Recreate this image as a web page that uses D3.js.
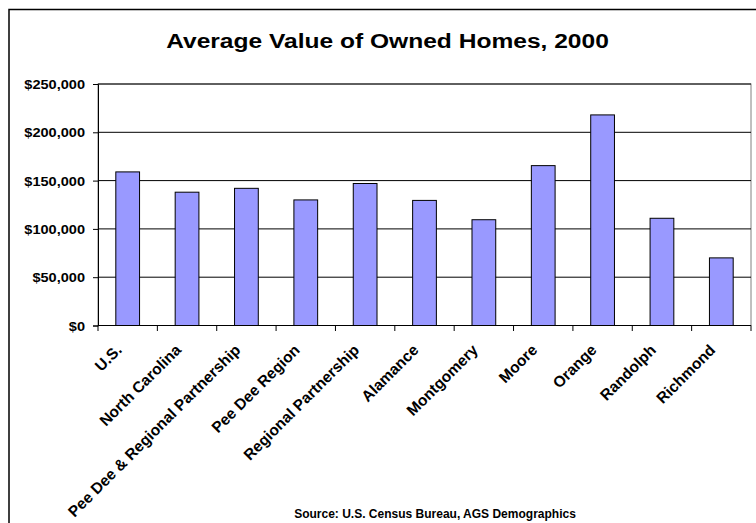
<!DOCTYPE html>
<html>
<head>
<meta charset="utf-8">
<script src="https://cdn.jsdelivr.net/npm/d3@7"></script>
<style>
  html, body { margin: 0; padding: 0; background: #fff; }
  svg { display: block; font-family: "Liberation Sans", Arial, sans-serif; }
</style>
</head>
<body>
<svg id="chart" width="756" height="523"></svg>
<script>
// Average value of owned homes, 2000 (US dollars)
const categories = ["U.S.", "North Carolina", "Pee Dee & Regional Partnership", "Pee Dee Region",
  "Regional Partnership", "Alamance", "Montgomery", "Moore", "Orange", "Randolph", "Richmond"];
const values = [159000, 138000, 142000, 130000, 147000, 129500, 109500, 165500, 218000, 111000, 70000];
const yTicks = [0, 50000, 100000, 150000, 200000, 250000];

const titleText = "Average Value of Owned Homes, 2000";
const sourceText = "Source: U.S. Census Bureau, AGS Demographics";

const svg = d3.select("#chart");
const plot = { left: 98, right: 751, top: 84, bottom: 325.5 };

const x = d3.scaleBand()
  .domain(categories)
  .range([plot.left, plot.right])
  .paddingInner(0.6)
  .paddingOuter(0.3);
const step = x.step();

const y = d3.scaleLinear()
  .domain([0, 250000])
  .range([plot.bottom, plot.top]);

// outer chart frame
svg.append("rect")
  .attr("x", 9).attr("y", 9.5)
  .attr("width", 800).attr("height", 600)
  .attr("fill", "none").attr("stroke", "#000").attr("stroke-width", 1.5);

// title
svg.append("text")
  .attr("transform", "translate(387.5,48) scale(1.17,1)")
  .attr("text-anchor", "middle")
  .attr("font-size", 21).attr("font-weight", "bold")
  .text(titleText);

// plot area border
svg.append("rect")
  .attr("x", plot.left).attr("y", plot.top)
  .attr("width", plot.right - plot.left).attr("height", plot.bottom - plot.top)
  .attr("fill", "none").attr("stroke", "#808080").attr("stroke-width", 1);

// horizontal gridlines
svg.append("g").selectAll("line")
  .data(yTicks.filter(d => d > 0))
  .join("line")
  .attr("x1", plot.left).attr("x2", plot.right)
  .attr("y1", d => y(d)).attr("y2", d => y(d))
  .attr("stroke", "#000").attr("stroke-width", 1);

// bars
svg.append("g").selectAll("rect")
  .data(values)
  .join("rect")
  .attr("x", (d, i) => x(categories[i]))
  .attr("width", x.bandwidth())
  .attr("y", d => y(d))
  .attr("height", d => y(0) - y(d))
  .attr("fill", "#9999ff")
  .attr("stroke", "#000").attr("stroke-width", 1);

// y axis
const yAxis = svg.append("g")
  .attr("transform", `translate(${plot.left},0)`)
  .call(d3.axisLeft(y).tickValues(yTicks).tickSize(5).tickPadding(0)
    .tickFormat(d => "$" + d3.format(",")(d)));
yAxis.select(".domain").attr("stroke", "#000");
yAxis.selectAll(".tick line").attr("stroke", "#000");
yAxis.selectAll(".tick text").remove();
yAxis.selectAll(".tick").append("text")
  .attr("transform", "translate(-13,4.5) scale(1.12,1)")
  .attr("text-anchor", "end")
  .attr("fill", "#000")
  .attr("font-size", 13).attr("font-weight", "bold")
  .attr("font-family", "Liberation Sans, Arial, sans-serif")
  .text(d => "$" + d3.format(",")(d));

// x axis line with ticks at category boundaries
svg.append("line")
  .attr("x1", plot.left).attr("x2", plot.right)
  .attr("y1", y(0)).attr("y2", y(0))
  .attr("stroke", "#000");
svg.append("g").selectAll("line")
  .data(d3.range(categories.length + 1))
  .join("line")
  .attr("x1", i => plot.left + i * step).attr("x2", i => plot.left + i * step)
  .attr("y1", y(0)).attr("y2", y(0) + 5.5)
  .attr("stroke", "#000");

// rotated category labels
svg.append("g").selectAll("text")
  .data(categories)
  .join("text")
  .attr("transform", d => `translate(${x(d) + x.bandwidth() / 2 - 5},351) rotate(-45)`)
  .attr("text-anchor", "end")
  .attr("font-size", 15.5).attr("font-weight", "bold")
  .text(d => d);

// source note
svg.append("text")
  .attr("x", 435).attr("y", 518)
  .attr("text-anchor", "middle")
  .attr("font-size", 12).attr("font-weight", "bold")
  .text(sourceText);
</script>
</body>
</html>
